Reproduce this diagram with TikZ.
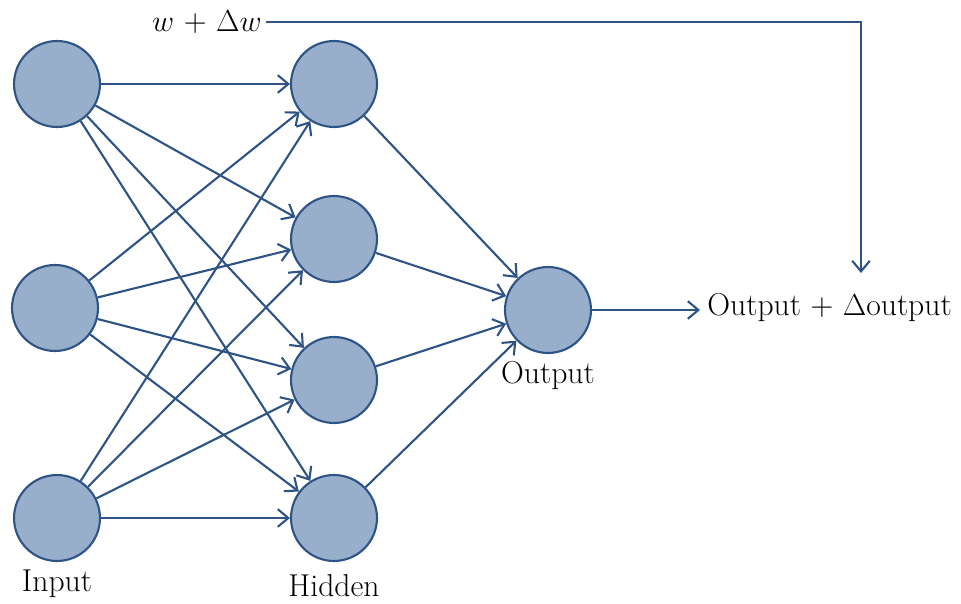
\documentclass[tikz,border=0pt]{standalone}
\usetikzlibrary{arrows.meta}
\definecolor{ln}{RGB}{46,84,135}
\definecolor{fl}{RGB}{152,175,203}
\begin{document}
\begin{tikzpicture}[x=0.02cm,y=-0.02cm,
  neuron/.style={circle,draw=ln,fill=fl,line width=1.2pt,minimum size=1.72cm,inner sep=0pt},
  lbl/.style={font=\fontsize{18}{21}\selectfont,inner sep=0pt},
  conn/.style={draw=ln,line width=1.2pt,-{Straight Barb[length=6pt,width=10pt,line width=1.2pt]}}]
\useasboundingbox (0,0) rectangle (961,604);
\node[neuron] (i1) at (57,84) {};
\node[neuron] (i2) at (55,308) {};
\node[neuron] (i3) at (57,518) {};
\node[neuron] (h1) at (334,84) {};
\node[neuron] (h2) at (334,239) {};
\node[neuron] (h3) at (334,380) {};
\node[neuron] (h4) at (334,518) {};
\node[neuron] (o) at (548,310) {};
\node[lbl] at (57,584) {Input};
\node[lbl] at (334,586) {Hidden};
\node[lbl] at (548,376) {Output};
\node[lbl,anchor=west,inner xsep=4pt] (res) at (700,308) {Output + $\Delta$output};
\node[lbl,anchor=east] (w) at (262,22) {$w$ + $\Delta w$};
\coordinate (c1) at (861,22);
\coordinate (c2) at (861,273);
\foreach \i in {i1,i2,i3}{
  \foreach \h in {h1,h2,h3,h4}{
    \draw[conn] (\i) -- (\h);
  }
}
\foreach \h in {h1,h2,h3,h4}{
  \draw[conn] (\h) -- (o);
}
\draw[conn] (o) -- (o -| res.west);
\draw[conn] ([xshift=2pt]w.east) -- (c1) -- (c2);
\end{tikzpicture}
\end{document}
